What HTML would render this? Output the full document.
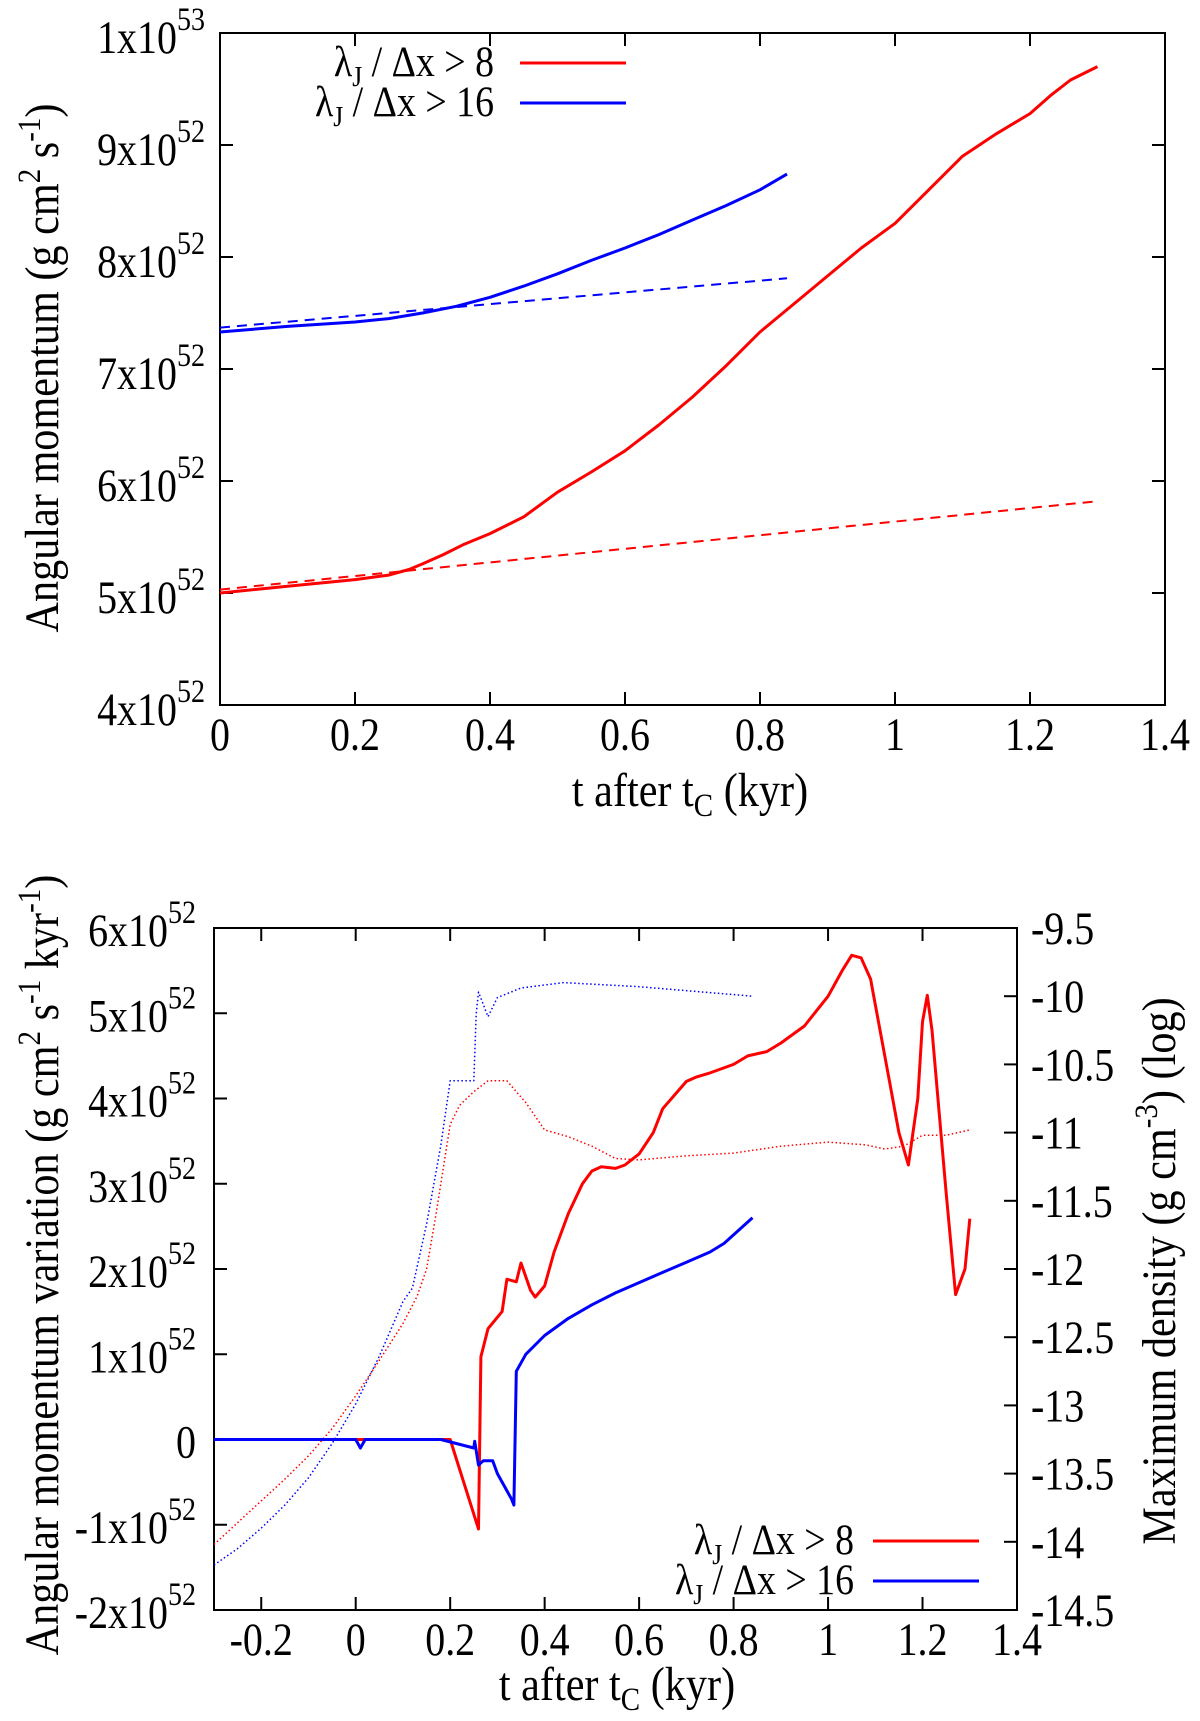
<!DOCTYPE html>
<html><head><meta charset="utf-8"><style>
html,body{margin:0;padding:0;background:#fff;}
svg{display:block;font-family:"Liberation Serif",serif;}
</style></head><body>
<svg id="s" width="1200" height="1721" xmlns="http://www.w3.org/2000/svg"></svg>
<script>
// ---------- Top chart data (y in units of 1e52 g cm^2 s^-1) ----------
const topRedX = [0,0.1,0.2,0.25,0.28,0.3,0.33,0.36,0.4,0.45,0.5,0.55,0.6,0.65,0.7,0.75,0.8,0.85,0.9,0.95,1.0,1.05,1.1,1.15,1.2,1.23,1.26,1.3];
const topRedY = [5.0,5.06,5.12,5.16,5.21,5.26,5.34,5.43,5.53,5.68,5.9,6.08,6.27,6.5,6.75,7.03,7.33,7.58,7.83,8.08,8.3,8.6,8.9,9.1,9.28,9.44,9.58,9.7];
const topRedDashX = [0,1.3];
const topRedDashY = [5.03,5.82];
const topBlueX = [0,0.1,0.2,0.25,0.3,0.35,0.4,0.45,0.5,0.55,0.6,0.65,0.7,0.75,0.8,0.84];
const topBlueY = [7.33,7.38,7.42,7.45,7.5,7.56,7.64,7.74,7.85,7.97,8.08,8.2,8.33,8.46,8.6,8.74];
const topBlueDashX = [0,0.84];
const topBlueDashY = [7.37,7.81];
const topXTicks = [0,0.2,0.4,0.6,0.8,1,1.2,1.4];
const topYTicks = [4,5,6,7,8,9,10];
const topYLabels = [["4x10","52"],["5x10","52"],["6x10","52"],["7x10","52"],["8x10","52"],["9x10","52"],["1x10","53"]];

// ---------- Bottom chart data ----------
const botRedX = [-0.3,0.0,0.2,0.26,0.265,0.28,0.31,0.32,0.34,0.35,0.37,0.38,0.4,0.42,0.45,0.48,0.5,0.52,0.55,0.57,0.6,0.63,0.65,0.7,0.72,0.75,0.8,0.83,0.87,0.9,0.95,1.0,1.03,1.05,1.07,1.09,1.1,1.13,1.15,1.17,1.19,1.2,1.21,1.22,1.25,1.27,1.29,1.3];
const botRedY = [0,0,0,-1.05,0.97,1.3,1.5,1.88,1.85,2.07,1.75,1.67,1.8,2.2,2.65,3.0,3.15,3.2,3.18,3.22,3.35,3.6,3.88,4.2,4.25,4.3,4.4,4.5,4.55,4.65,4.85,5.2,5.5,5.68,5.65,5.4,5.1,4.2,3.6,3.22,4.0,4.9,5.21,4.8,2.9,1.7,2.0,2.59];
const botBlueX = [-0.3,0.0,0.01,0.02,0.18,0.25,0.252,0.26,0.27,0.29,0.3,0.33,0.335,0.34,0.36,0.4,0.45,0.5,0.55,0.6,0.65,0.7,0.75,0.78,0.84];
const botBlueY = [0,0,-0.1,0,0,-0.1,-0.02,-0.3,-0.25,-0.25,-0.4,-0.7,-0.77,0.8,1.0,1.22,1.42,1.58,1.72,1.84,1.96,2.08,2.2,2.3,2.6];
const densBlueX = [-0.3,-0.25,-0.2,-0.15,-0.1,-0.05,0,0.05,0.1,0.12,0.15,0.18,0.2,0.25,0.255,0.26,0.28,0.3,0.35,0.44,0.6,0.84];
const densBlueY = [-14.17,-14.05,-13.9,-13.73,-13.53,-13.28,-12.99,-12.64,-12.24,-12.14,-11.67,-11.1,-10.62,-10.62,-10.13,-9.97,-10.15,-10.01,-9.94,-9.9,-9.93,-10.0];
const densRedX = [-0.3,-0.25,-0.2,-0.15,-0.1,-0.05,0,0.05,0.1,0.13,0.15,0.17,0.2,0.22,0.25,0.28,0.32,0.36,0.4,0.45,0.5,0.55,0.6,0.7,0.8,0.9,1.0,1.08,1.12,1.16,1.2,1.25,1.3];
const densRedY = [-14.02,-13.86,-13.7,-13.54,-13.37,-13.17,-12.93,-12.67,-12.4,-12.2,-12.0,-11.6,-10.94,-10.8,-10.7,-10.62,-10.62,-10.78,-10.98,-11.03,-11.1,-11.19,-11.2,-11.17,-11.15,-11.1,-11.07,-11.09,-11.12,-11.1,-11.02,-11.02,-10.98];
const botXTicks = [-0.2,0,0.2,0.4,0.6,0.8,1,1.2,1.4];
const botYTicks = [-2,-1,0,1,2,3,4,5,6];
const botYLabels = [["-2x10","52"],["-1x10","52"],["0",""],["1x10","52"],["2x10","52"],["3x10","52"],["4x10","52"],["5x10","52"],["6x10","52"]];
const botY2Ticks = [-14.5,-14,-13.5,-13,-12.5,-12,-11.5,-11,-10.5,-10,-9.5];

const NS="http://www.w3.org/2000/svg";
const svg=document.getElementById('s');
function mk(tag,attrs,parent,text){const e=document.createElementNS(NS,tag);for(const k in attrs)e.setAttribute(k,attrs[k]);if(text!==undefined)e.textContent=text;(parent||svg).appendChild(e);return e;}
function txt(parent,x,y,size,anchor,sx,rot){
  return mk('text',{x:0,y:0,'font-size':size,'text-anchor':anchor,transform:`translate(${x},${y})${rot?' rotate(-90)':''} scale(${sx},1)`},parent);
}
function lin(d0,d1,p0,p1){return v=>p0+(v-d0)*(p1-p0)/(d1-d0);}
function pathD(xs,ys,sx,sy){return xs.map((x,i)=>(i?'L':'M')+sx(x).toFixed(1)+' '+sy(ys[i]).toFixed(1)).join(' ');}
function fmt(v){return String(Math.round(v*10)/10);}
const TS=47, TSX=0.85, HS=48, HSX=0.88, LS=43, LSX=0.88;

// ===== TOP CHART =====
const g1=mk('g',{});


const TL=220,TR=1165,TT=33,TB=705;
const tx=lin(0,1.4,TL,TR), ty=lin(4,10,TB,TT);
topXTicks.forEach(v=>{
  const X=tx(v);
  const t=mk('path',{d:`M${X} ${TB}v-13M${X} ${TT}v13`,stroke:'#000','stroke-width':2},g1);
  
  
  const l=txt(g1,X,TB+45,TS,'middle',TSX);l.textContent=fmt(v);
  
  
});
topYTicks.forEach((v,i)=>{
  const Y=ty(v);
  const t=mk('path',{d:`M${TL} ${Y}h13M${TR} ${Y}h-13`,stroke:'#000','stroke-width':2},g1);
  
  
  const l=txt(g1,205,Y+20,TS,'end',TSX);
  
  
  mk('tspan',{},l,topYLabels[i][0]);
  mk('tspan',{dy:-23,'font-size':33},l,topYLabels[i][1]);
});
const f1=mk('rect',{x:TL,y:TT,width:TR-TL,height:TB-TT,fill:'none',stroke:'#000','stroke-width':2},g1);


[[topRedDashX,topRedDashY,'#f00','10,7',2,'red-fit-dashed'],[topBlueDashX,topBlueDashY,'#00f','10,7',2,'blue-fit-dashed'],
 [topRedX,topRedY,'#f00','',3,'red-line'],[topBlueX,topBlueY,'#00f','',3,'blue-line']].forEach(s=>{
  const p=mk('path',{d:pathD(s[0],s[1],tx,ty),fill:'none',stroke:s[2],'stroke-width':s[4],'stroke-dasharray':s[3]||'none','stroke-linejoin':'round'},g1);
  
  
});
const lg1=mk('g',{},g1);


[['8','#f00',63],['16','#00f',103]].forEach(e=>{
  const t=txt(lg1,494,e[2]+13,LS,'end',LSX);
  
  
  mk('tspan',{},t,'λ');mk('tspan',{dy:10,'font-size':29},t,'J');mk('tspan',{dy:-10},t,' / Δx > '+e[0]);
  const l=mk('line',{x1:520,x2:626,y1:e[2],y2:e[2],stroke:e[1],'stroke-width':3},lg1);
  
  
});
const xt1=txt(g1,690,806,HS,'middle',HSX);


mk('tspan',{},xt1,'t after t');mk('tspan',{dy:10,'font-size':33},xt1,'C');mk('tspan',{dy:-10},xt1,' (kyr)');
const yt1=txt(g1,58,368,HS,'middle',HSX,true);


mk('tspan',{},yt1,'Angular momentum (g cm');mk('tspan',{dy:-18,'font-size':33},yt1,'2');mk('tspan',{dy:18},yt1,' s');mk('tspan',{dy:-18,'font-size':33},yt1,'-1');mk('tspan',{dy:18},yt1,')');

// ===== BOTTOM CHART =====
const g2=mk('g',{});


const BL=214,BR=1017,BT=928,BB=1610;
const bx=lin(-0.3,1.4,BL,BR), by=lin(-2,6,BB,BT), by2=lin(-14.5,-9.5,BB,BT);
botXTicks.forEach(v=>{
  const X=bx(v);
  const t=mk('path',{d:`M${X} ${BB}v-13M${X} ${BT}v13`,stroke:'#000','stroke-width':2},g2);
  
  
  const l=txt(g2,X,BB+45,TS,'middle',TSX);l.textContent=fmt(v);
  
  
});
botYTicks.forEach((v,i)=>{
  const Y=by(v);
  const t=mk('path',{d:`M${BL} ${Y}h13`,stroke:'#000','stroke-width':2},g2);
  
  
  const l=txt(g2,196,Y+18,TS,'end',TSX);
  
  
  mk('tspan',{},l,botYLabels[i][0]);
  if(botYLabels[i][1])mk('tspan',{dy:-23,'font-size':33},l,botYLabels[i][1]);
});
botY2Ticks.forEach(v=>{
  const Y=by2(v);
  const t=mk('path',{d:`M${BR} ${Y}h-13`,stroke:'#000','stroke-width':2},g2);
  
  
  const l=txt(g2,1031,Y+16,TS,'start',TSX);l.textContent=String(v);
  
  
});
const f2=mk('rect',{x:BL,y:BT,width:BR-BL,height:BB-BT,fill:'none',stroke:'#000','stroke-width':2},g2);


const clip=mk('clipPath',{id:'cb'},g2);mk('rect',{x:BL,y:BT,width:BR-BL,height:BB-BT},clip);
[[densRedX,densRedY,'#f00',by2,'1.5,2.5',1.5,'red-density-dotted'],[densBlueX,densBlueY,'#00f',by2,'1.5,2.5',1.5,'blue-density-dotted'],
 [botRedX,botRedY,'#f00',by,'',3,'red-line'],[botBlueX,botBlueY,'#00f',by,'',3,'blue-line']].forEach(s=>{
  const p=mk('path',{d:pathD(s[0],s[1],bx,s[3]),fill:'none',stroke:s[2],'stroke-width':s[5],'stroke-dasharray':s[4]||'none','stroke-linejoin':'round','clip-path':'url(#cb)'},g2);
  
  
});
const lg2=mk('g',{},g2);


[['8','#f00',1541],['16','#00f',1581]].forEach(e=>{
  const t=txt(lg2,854,e[2]+13,LS,'end',LSX);
  
  
  mk('tspan',{},t,'λ');mk('tspan',{dy:10,'font-size':29},t,'J');mk('tspan',{dy:-10},t,' / Δx > '+e[0]);
  const l=mk('line',{x1:873,x2:979,y1:e[2],y2:e[2],stroke:e[1],'stroke-width':3},lg2);
  
  
});
const xt2=txt(g2,617,1700,HS,'middle',HSX);


mk('tspan',{},xt2,'t after t');mk('tspan',{dy:10,'font-size':33},xt2,'C');mk('tspan',{dy:-10},xt2,' (kyr)');
const yt2=txt(g2,58,1265,HS,'middle',HSX,true);


mk('tspan',{},yt2,'Angular momentum variation (g cm');mk('tspan',{dy:-18,'font-size':33},yt2,'2');mk('tspan',{dy:18},yt2,' s');mk('tspan',{dy:-18,'font-size':33},yt2,'-1');mk('tspan',{dy:18},yt2,' kyr');mk('tspan',{dy:-18,'font-size':33},yt2,'-1');mk('tspan',{dy:18},yt2,')');
const yt3=txt(g2,1175,1271,HS,'middle',HSX,true);


mk('tspan',{},yt3,'Maximum density (g cm');mk('tspan',{dy:-18,'font-size':33},yt3,'-3');mk('tspan',{dy:18},yt3,') (log)');
</script>
</body></html>
